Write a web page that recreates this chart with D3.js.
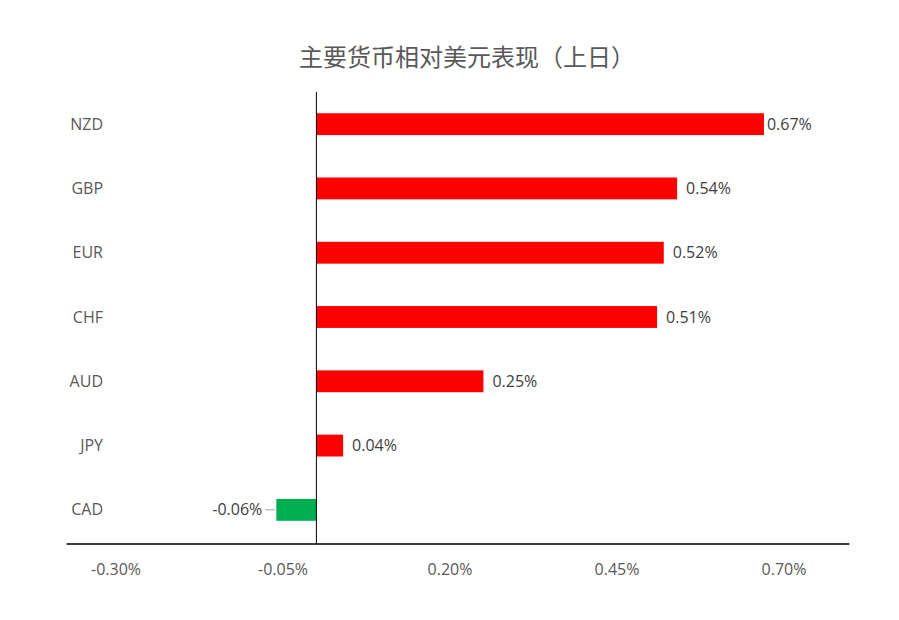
<!DOCTYPE html>
<html><head><meta charset="utf-8">
<script src="https://cdn.jsdelivr.net/npm/d3@7"></script>
<style>body{margin:0;background:#fff;font-family:"Open Sans","Noto Sans CJK SC",sans-serif;}</style>
</head><body><div id="chart"></div>
<script>
const categories = ["NZD", "GBP", "EUR", "CHF", "AUD", "JPY", "CAD"];
const values = [0.67, 0.54, 0.52, 0.51, 0.25, 0.04, -0.06];
const tickValues = [-0.30, -0.05, 0.20, 0.45, 0.70];

const width = 899, height = 620;
const svg = d3.select('#chart').append('svg').attr('width', width).attr('height', height);

// x scale: -0.30 at 116, 0.70 at 784
const x = d3.scaleLinear().domain([-0.30, 0.70]).range([116, 784]);
const y = d3.scaleBand().domain(categories).range([92, 542]).paddingInner(0.66).paddingOuter(0.33);

svg.append('text')
  .attr('x', 467).attr('y', 66).attr('text-anchor', 'middle')
  .style('font-size', '24px').style('fill', '#595959')
  .text('主要货币相对美元表现（上日）');

// bars
svg.selectAll('rect.bar').data(values).enter().append('rect')
  .attr('x', d => x(Math.min(0, d)))
  .attr('width', d => Math.abs(x(d) - x(0)))
  .attr('y', (d, i) => y(categories[i]))
  .attr('height', y.bandwidth())
  .style('fill', d => d >= 0 ? '#ff0000' : '#00b050');

// value labels
svg.selectAll('text.val').data(values).enter().append('text')
  .attr('x', d => d >= 0 ? x(d) + (d > 0.6 ? 3 : 9) : x(d) - 14)
  .attr('y', (d, i) => y(categories[i]) + y.bandwidth() / 2)
  .attr('dy', '0.35em')
  .attr('text-anchor', d => d >= 0 ? 'start' : 'end')
  .style('font-size', '16px').style('fill', '#404040')
  .text(d => d.toFixed(2) + '%');

// leader line for negative label
svg.selectAll('line.lead').data(values.filter(d => d < 0)).enter().append('line')
  .attr('x1', d => x(d) - 11).attr('x2', d => x(d) - 1)
  .attr('y1', y('CAD') + y.bandwidth() / 2).attr('y2', y('CAD') + y.bandwidth() / 2)
  .style('stroke', '#a6a6a6');

// category labels
svg.selectAll('text.cat').data(categories).enter().append('text')
  .attr('x', 103).attr('y', d => y(d) + y.bandwidth() / 2)
  .attr('dy', '0.35em').attr('text-anchor', 'end')
  .style('font-size', '16px').style('fill', '#595959')
  .text(d => d);

// vertical zero axis
svg.append('line').attr('x1', x(0)).attr('x2', x(0)).attr('y1', 92).attr('y2', 544)
  .style('stroke', '#000').style('stroke-width', 1);

// bottom axis line
svg.append('line').attr('x1', x(-0.374)).attr('x2', x(0.798)).attr('y1', 544).attr('y2', 544)
  .style('stroke', '#000').style('stroke-width', 1.3);

svg.selectAll('text.tick').data(tickValues).enter().append('text')
  .attr('x', d => x(d)).attr('y', 575).attr('text-anchor', 'middle')
  .style('font-size', '16px').style('fill', '#595959')
  .text(d => d.toFixed(2) + '%');
</script></body></html>
